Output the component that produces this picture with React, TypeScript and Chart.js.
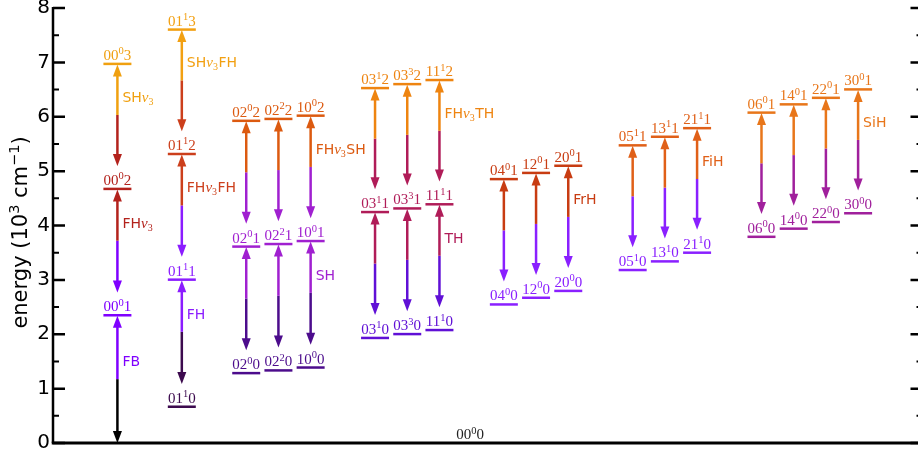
import React, { useEffect, useRef } from "react";
import { Chart, registerables } from "chart.js";

Chart.register(...registerables);

const SANS = "'DejaVu Sans', sans-serif";
const SERIF = "'Liberation Serif', 'DejaVu Serif', serif";

// ---- data ----
const yTickValues = [0, 1, 2, 3, 4, 5, 6, 7, 8];
// y-axis title pieces: [text, superscript?]
const yTitleParts: [string, boolean][] = [
  ["energy (10", false],
  ["3", true],
  [" cm", false],
  ["−1", true],
  [")", false],
];

// column index (x) of each vibrational stack
const colX = [0, 2, 4, 5, 6, 8, 9, 10, 12, 13, 14, 16, 17, 18, 20, 21, 22, 23];
// level notation  <prefix>^<sup><v3>
const colPrefix = ["00", "01", "02", "02", "10", "03", "03", "11", "04", "12", "20", "05", "13", "21", "06", "14", "22", "30"];
const colSup = ["0", "1", "0", "2", "0", "1", "3", "1", "0", "0", "0", "1", "1", "1", "0", "0", "0", "0"];
const colGroup = [0, 1, 2, 2, 2, 3, 3, 3, 4, 4, 4, 5, 5, 5, 6, 6, 6, 6];
// energies (10^3 cm^-1) for v3 = 0, 1, 2, ...
const colEnergies = [
  [0, 2.349, 4.673, 6.972],
  [0.667, 3.004, 5.315, 7.603],
  [1.285, 3.612, 5.925],
  [1.335, 3.659, 5.96],
  [1.388, 3.714, 6.02],
  [1.932, 4.247, 6.527],
  [2.003, 4.314, 6.6],
  [2.077, 4.39, 6.675],
  [2.548, 4.853],
  [2.671, 4.967],
  [2.797, 5.099],
  [3.181, 5.474],
  [3.34, 5.632],
  [3.5, 5.79],
  [3.792, 6.076],
  [3.942, 6.228],
  [4.064, 6.348],
  [4.225, 6.503],
];
// colours of the levels in each group, by v3
const groupColors = [
  ["#000000", "#7f00ff", "#b3221c", "#f0a010"],
  ["#3c0a4e", "#8b1cff", "#cc3f1c", "#f2a012"],
  ["#4c0c8c", "#a020d0", "#dc5a10"],
  ["#6010d6", "#b01c58", "#ee8410"],
  ["#8a20ff", "#c83c12"],
  ["#8a20ff", "#e06018"],
  ["#a0209c", "#e8761a"],
];
// band names of each group, one per step in v3
const groupLabels = [
  ["FB", "FHv₃", "SHv₃"],
  ["FH", "FHv₃FH", "SHv₃FH"],
  ["SH", "FHv₃SH"],
  ["TH", "FHv₃TH"],
  ["FrH"],
  ["FiH"],
  ["SiH"],
];
const groundLabel = ["00", "0", "0"];
const groundLabelX = 10.95;

// ---- style constants ----
const GAP = 0.42; // clearance above a lower level (for its label)
const HEAD_LEN = 12;
const HEAD_HW = 4.5;
const SHAFT_TRIM = 0.18;

type Level = { x: number; y: number; color: string; prefix: string; sup: string; tail: string };
type Trans = {
  x: number; lower: number; upper: number; downTip: number; mid: number;
  lowerColor: string; upperColor: string; label: string | null;
};

const levels: Level[] = [];
const transitions: Trans[] = [];
colX.forEach((cx, c) => {
  const g = colGroup[c];
  const es = colEnergies[c];
  const isLastInGroup = c === colGroup.length - 1 || colGroup[c + 1] !== g;
  es.forEach((e, i) => {
    if (e > 0) {
      levels.push({ x: cx, y: e, color: groupColors[g][i], prefix: colPrefix[c], sup: colSup[c], tail: String(i) });
    }
    if (i < es.length - 1) {
      const upper = es[i + 1];
      const downTip = e === 0 ? 0 : e + GAP;
      transitions.push({
        x: cx, lower: e, upper, downTip, mid: (downTip + upper) / 2,
        lowerColor: groupColors[g][i], upperColor: groupColors[g][i + 1],
        label: isLastInGroup ? groupLabels[g][i] : null,
      });
    }
  });
});

const shaftData: { x: number; y: number | null }[] = [];
const shaftColors: string[] = [];
transitions.forEach((t) => {
  shaftData.push({ x: t.x, y: t.downTip + SHAFT_TRIM }, { x: t.x, y: t.mid }, { x: t.x, y: t.upper - SHAFT_TRIM }, { x: t.x, y: null });
  shaftColors.push(t.lowerColor, t.upperColor, t.upperColor, t.upperColor);
});

function drawLevelLabel(ctx: CanvasRenderingContext2D, cx: number, base: number, p: string, s: string, t: string, color: string) {
  const big = `15px ${SERIF}`;
  const small = `10.5px ${SERIF}`;
  ctx.font = big;
  const w1 = ctx.measureText(p).width;
  const w3 = ctx.measureText(t).width;
  ctx.font = small;
  const w2 = ctx.measureText(s).width;
  let x = cx - (w1 + w2 + w3) / 2;
  ctx.fillStyle = color;
  ctx.textAlign = "left";
  ctx.textBaseline = "alphabetic";
  ctx.font = big;
  ctx.fillText(p, x, base);
  x += w1;
  ctx.font = small;
  ctx.fillText(s, x, base - 5.5);
  x += w2;
  ctx.font = big;
  ctx.fillText(t, x, base);
}

function drawBandLabel(ctx: CanvasRenderingContext2D, x0: number, cy: number, text: string, color: string) {
  const base = cy + 5;
  const parts = text.split("v₃");
  ctx.fillStyle = color;
  ctx.textAlign = "left";
  ctx.textBaseline = "alphabetic";
  let x = x0;
  parts.forEach((part, i) => {
    if (i > 0) {
      ctx.font = `italic 15px ${SERIF}`;
      ctx.fillText("v", x, base);
      x += ctx.measureText("v").width;
      ctx.font = `10px ${SERIF}`;
      ctx.fillText("3", x, base + 3);
      x += ctx.measureText("3").width + 0.5;
    }
    ctx.font = `14px ${SANS}`;
    ctx.fillText(part, x, base);
    x += ctx.measureText(part).width;
  });
}

function drawYTitle(ctx: CanvasRenderingContext2D, bx: number, cy: number) {
  const big = `21px ${SANS}`;
  const small = `14.5px ${SANS}`;
  let total = 0;
  yTitleParts.forEach(([t, sup]) => {
    ctx.font = sup ? small : big;
    total += ctx.measureText(t).width;
  });
  ctx.save();
  ctx.translate(bx, cy);
  ctx.rotate(-Math.PI / 2);
  ctx.fillStyle = "#000";
  ctx.textAlign = "left";
  ctx.textBaseline = "alphabetic";
  let x = -total / 2;
  yTitleParts.forEach(([t, sup]) => {
    ctx.font = sup ? small : big;
    ctx.fillText(t, x, sup ? -8.5 : 0);
    x += ctx.measureText(t).width;
  });
  ctx.restore();
}

const decor = {
  id: "energyDecor",
  afterDatasetsDraw(chart: any) {
    const { ctx, chartArea: a, scales } = chart;
    const xs = scales.x;
    const ys = scales.y;
    ctx.save();
    // arrow heads
    transitions.forEach((t) => {
      const px = xs.getPixelForValue(t.x);
      const up = ys.getPixelForValue(t.upper) + 0.5;
      ctx.fillStyle = t.upperColor;
      ctx.beginPath();
      ctx.moveTo(px, up);
      ctx.lineTo(px - HEAD_HW, up + HEAD_LEN);
      ctx.lineTo(px + HEAD_HW, up + HEAD_LEN);
      ctx.closePath();
      ctx.fill();
      const dn = ys.getPixelForValue(t.downTip);
      ctx.fillStyle = t.lowerColor;
      ctx.beginPath();
      ctx.moveTo(px, dn);
      ctx.lineTo(px - HEAD_HW, dn - HEAD_LEN);
      ctx.lineTo(px + HEAD_HW, dn - HEAD_LEN);
      ctx.closePath();
      ctx.fill();
    });
    // level labels
    levels.forEach((l) => {
      drawLevelLabel(ctx, xs.getPixelForValue(l.x), ys.getPixelForValue(l.y) - 4, l.prefix, l.sup, l.tail, l.color);
    });
    drawLevelLabel(ctx, xs.getPixelForValue(groundLabelX), ys.getPixelForValue(0) - 4, groundLabel[0], groundLabel[1], groundLabel[2], "#222222");
    // band labels
    transitions.forEach((t) => {
      if (!t.label) return;
      drawBandLabel(ctx, xs.getPixelForValue(t.x) + 5, ys.getPixelForValue(t.mid + 0.33), t.label, t.upperColor);
    });
    // spines and ticks
    ctx.strokeStyle = "#000";
    ctx.lineCap = "butt";
    ctx.lineWidth = 2.5;
    ctx.beginPath();
    ctx.moveTo(a.left, a.top - 1);
    ctx.lineTo(a.left, a.bottom);
    ctx.stroke();
    ctx.lineWidth = 3;
    ctx.beginPath();
    ctx.moveTo(a.left - 1.25, a.bottom);
    ctx.lineTo(chart.width, a.bottom);
    ctx.stroke();
    const xr = xs.getPixelForValue(25);
    for (let v = 0; v <= 8; v += 0.5) {
      const py = ys.getPixelForValue(v);
      const major = Number.isInteger(v);
      const len = major ? 12 : 6;
      ctx.lineWidth = major ? 2.5 : 2;
      ctx.beginPath();
      ctx.moveTo(a.left, py);
      ctx.lineTo(a.left + len, py);
      ctx.moveTo(xr - len, py);
      ctx.lineTo(xr, py);
      ctx.stroke();
    }
    // y-axis title
    drawYTitle(ctx, 27, (a.top + a.bottom) / 2 + 7);
    ctx.restore();
  },
};

export default function App() {
  const ref = useRef<HTMLCanvasElement>(null);
  useEffect(() => {
    document.body.style.margin = "0";
    const canvas = ref.current!;
    const chart = new Chart(canvas, {
      type: "scatter",
      data: {
        datasets: [
          {
            label: "levels",
            data: levels.map((l) => ({ x: l.x, y: l.y })),
            pointStyle: "line",
            pointRadius: 14,
            pointBorderWidth: 2.5,
            pointBorderColor: levels.map((l) => l.color),
            pointBackgroundColor: levels.map((l) => l.color),
            showLine: false,
          } as any,
          {
            label: "transitions",
            data: shaftData,
            showLine: true,
            spanGaps: false,
            pointRadius: 0,
            borderWidth: 2.5,
            borderColor: "#000",
            segment: { borderColor: (c: any) => shaftColors[c.p0DataIndex] },
          } as any,
        ],
      },
      options: {
        responsive: false,
        animation: false,
        devicePixelRatio: 1,
        events: [],
        layout: { autoPadding: false, padding: { top: 8, bottom: 14, left: 0, right: 0 } },
        plugins: { legend: { display: false }, tooltip: { enabled: false } },
        scales: {
          x: { type: "linear", min: -2, max: 24.86, display: false },
          y: {
            type: "linear",
            min: 0,
            max: 8,
            afterFit: (s: any) => {
              s.width = 53;
              s.paddingTop = 0;
              s.paddingBottom = 0;
            },
            afterBuildTicks: (s: any) => {
              s.ticks = yTickValues.map((v) => ({ value: v }));
            },
            grid: { display: false, drawTicks: false },
            border: { display: false },
            ticks: { font: { family: SANS, size: 20 }, color: "#000", padding: 3 },
            title: { display: false },
          },
        },
      },
      plugins: [decor],
    } as any);
    return () => chart.destroy();
  }, []);
  return <canvas ref={ref} width={918} height={457} style={{ display: "block", width: 918, height: 457 }} />;
}
